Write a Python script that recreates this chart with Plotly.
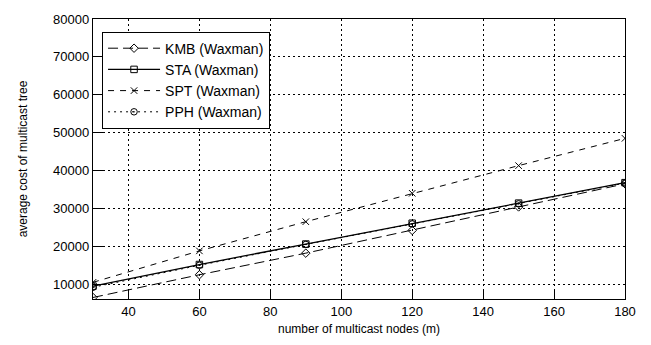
import plotly.graph_objects as go

nodes = [30, 60, 90, 120, 150, 180]
kmb = [6500, 12500, 18200, 24200, 30400, 36500]
sta = [9500, 15200, 20600, 26100, 31400, 36800]
spt = [10500, 18800, 26500, 34000, 41300, 48500]
pph = [9200, 15000, 20500, 25900, 31200, 36700]

x_ticks = [40, 60, 80, 100, 120, 140, 160, 180]
y_ticks = [10000, 20000, 30000, 40000, 50000, 60000, 70000, 80000]
y_labels = [str(v) for v in y_ticks]

series = [
    ("KMB (Waxman)", kmb, "10px,5px", "diamond-open"),
    ("STA (Waxman)", sta, "solid", "square-open"),
    ("SPT (Waxman)", spt, "6px,6px", "x-thin-open"),
    ("PPH (Waxman)", pph, "2px,4px", "circle-open-dot"),
]

fig = go.Figure()
for name, vals, dash, sym in series:
    fig.add_trace(go.Scatter(
        x=nodes, y=vals, name=name, mode="lines+markers",
        line=dict(color="black", width=1.3 if dash == "solid" else 1, dash=dash),
        marker=dict(symbol=sym, size=6.5, color="black", line=dict(color="black", width=1)),
    ))

axis_common = dict(
    showline=True, linecolor="black", linewidth=1.3, mirror=True,
    ticks="inside", ticklen=10, tickcolor="black", tickwidth=1.2,
    showgrid=True, gridcolor="black", gridwidth=1, griddash="2px,3px",
    zeroline=False,
    tickfont=dict(family="Liberation Sans, Arial", size=13, color="black"),
)

fig.update_layout(
    width=651, height=345,
    margin=dict(l=93, r=26, t=15, b=43),
    paper_bgcolor="white", plot_bgcolor="white",
    font=dict(family="Liberation Sans, Arial", size=12, color="black"),
    xaxis=dict(range=[30, 180], tickvals=x_ticks,
               title=dict(text="number of multicast nodes (m)", standoff=6,
                          font=dict(size=12)), **axis_common),
    yaxis=dict(range=[6100, 80000], tickvals=y_ticks, ticktext=y_labels,
               title=dict(text="average cost of multicast tree", standoff=22,
                          font=dict(size=12)), **axis_common),
    legend=dict(x=0.017, y=0.955, xanchor="left", yanchor="top",
                bgcolor="white", bordercolor="black", borderwidth=1,
                font=dict(size=14), tracegroupgap=0, itemwidth=52),
)

fig.write_html("out.html", config={"displayModeBar": False})

with open("out.html", encoding="utf-8") as f:
    html = f.read()
html = html.replace("<head>", "<head><style>html,body{margin:0;padding:0;overflow:hidden}</style>", 1)
with open("out.html", "w", encoding="utf-8") as f:
    f.write(html)
